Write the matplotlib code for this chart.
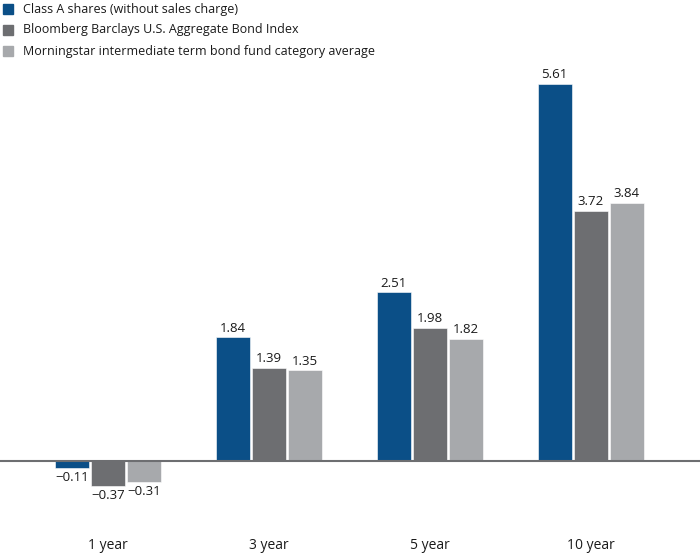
import matplotlib
matplotlib.use("Agg")
import matplotlib.pyplot as plt
import numpy as np

categories = ["1 year", "3 year", "5 year", "10 year"]
series_names = ["Class A shares (without sales charge)",
                "Bloomberg Barclays U.S. Aggregate Bond Index",
                "Morningstar intermediate term bond fund category average"]
class_a = [-0.11, 1.84, 2.51, 5.61]
bbagg = [-0.37, 1.39, 1.98, 3.72]
morningstar = [-0.31, 1.35, 1.82, 3.84]
colors = ["#0b4f87", "#6d6e71", "#a7a9ac"]

plt.rcParams['font.family'] = ['Open Sans', 'DejaVu Sans']

fig = plt.figure(figsize=(7.0, 5.53), dpi=100)
ax = fig.add_axes([0, 0, 1, 1])
ax.set_xlim(-0.67, 3.68)
ax.set_ylim(-1.369, 6.86)
ax.axis('off')

x = np.arange(len(categories))
width = 0.211
offset = 0.224
all_series = [class_a, bbagg, morningstar]
for i, (vals, col) in enumerate(zip(all_series, colors)):
    pos = x + (i - 1) * offset
    ax.bar(pos, vals, width=width, color=col, edgecolor='white', linewidth=0.4, zorder=2)
    for p, v in zip(pos, vals):
        lab = f"{v:.2f}".replace('-', '\u2212')
        if v >= 0:
            ax.text(p, v + 0.04, lab, ha='center', va='bottom', fontsize=9.5, color='#1a1a1a')
        else:
            ax.text(p, v - 0.04, lab, ha='center', va='top', fontsize=9.5, color='#1a1a1a')

ax.axhline(0, color='#6d6e71', linewidth=1.5, zorder=3)

for xi, c in zip(x, categories):
    ax.text(xi, -1.25, c, ha='center', va='center', fontsize=10, color='#1a1a1a')

# legend
for i, (name, col) in enumerate(zip(series_names, colors)):
    ypix = 9 + i * 21
    fig.patches.append(plt.Rectangle((3 / 700, 1 - (ypix + 5) / 553), 10 / 700, 10 / 553,
                                     transform=fig.transFigure, color=col, figure=fig))
    fig.text(23 / 700, 1 - ypix / 553, name, ha='left', va='center', fontsize=9, color='#1a1a1a')

fig.savefig("out.png", dpi=100)
